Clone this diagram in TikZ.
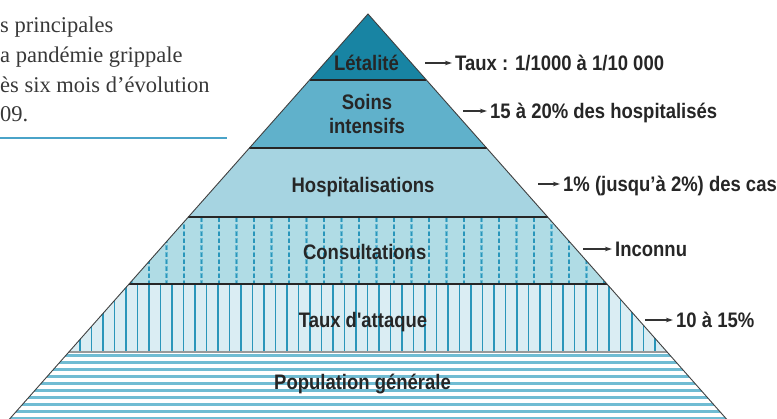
\documentclass[tikz,border=0pt]{standalone}
\usepackage{fontspec}
\setmainfont{Liberation Serif}
\newfontfamily\pyrfont[FakeStretch=0.88]{Liberation Sans}
\usetikzlibrary{arrows.meta}

\definecolor{letalcol}{RGB}{24,132,163}
\definecolor{soinscol}{RGB}{96,177,203}
\definecolor{hospcol}{RGB}{166,212,225}
\definecolor{consultcol}{RGB}{176,220,229}
\definecolor{attaquecol}{RGB}{218,237,243}
\definecolor{hatchcol}{RGB}{42,150,186}
\definecolor{hatchlight}{RGB}{104,186,211}
\definecolor{stripecol}{RGB}{112,188,211}
\definecolor{rulecol}{RGB}{74,163,200}

\begin{document}
\begin{tikzpicture}[
    x=1pt, y=-1pt,
    lbl/.style={
        font=\pyrfont\bfseries\fontsize{21}{24.3}\selectfont,
        text=black!85,
        inner sep=0pt,
    },
    band/.style={lbl, text height=15pt, text depth=0pt},
    note/.style={band, anchor=west, inner xsep=3pt},
    pointer/.style={-{Stealth[length=7pt,width=4.5pt]}, line width=1.2pt, black!80},
    sep/.style={line width=1.1pt, black!85},
]
    \clip (0,0) rectangle (777,419);

    % ~~~ pyramid levels ~~~~~~~~~~~~
    \coordinate (apex) at (368,14);
    \foreach \i/\y in {1/80,2/148,3/217,4/284,5/352,6/430}{
        \coordinate (l\i) at ({368-0.885*(\y-14)},\y);
        \coordinate (r\i) at ({368+0.885*(\y-14)},\y);
    }
    \fill[letalcol]   (apex) -- (r1) -- (l1) -- cycle;
    \fill[soinscol]   (l1) -- (r1) -- (r2) -- (l2) -- cycle;
    \fill[hospcol]    (l2) -- (r2) -- (r3) -- (l3) -- cycle;
    \fill[consultcol] (l3) -- (r3) -- (r4) -- (l4) -- cycle;
    \fill[attaquecol] (l4) -- (r4) -- (r5) -- (l5) -- cycle;

    % consultations: dashed hatching
    \begin{scope}
        \clip (l3) -- (r3) -- (r4) -- (l4) -- cycle;
        \foreach \k in {0,...,27}{
            \draw[hatchlight, line width=2.4pt, dash pattern=on 5pt off 2pt]
                ({131.5+17.5*\k},217) -- ++(0,67);
            \draw[hatchcol, line width=1.1pt, dash pattern=on 4pt off 3pt]
                ({131.5+17.5*\k},218) -- ++(0,67);
        }
    \end{scope}

    % taux d'attaque: plain hatching
    \begin{scope}
        \clip (l4) -- (r4) -- (r5) -- (l5) -- cycle;
        \foreach \k in {0,...,52}
            \draw[hatchcol, line width=1.1pt] ({68.5+11.5*\k},284) -- ++(0,68);
    \end{scope}

    % population: stripes
    \begin{scope}
        \clip (l5) -- (r5) -- (r6) -- (l6) -- cycle;
        \foreach \k in {0,...,11}
            \fill[stripecol] (0,{354+7*\k}) rectangle (777,{357.5+7*\k});
    \end{scope}

    \draw[sep] (l1) -- (r1);
    \draw[sep] (l2) -- (r2);
    \draw[sep] (l3) -- (r3);
    \draw[sep] (l4) -- (r4);
    \draw[line width=2pt, black!40] (l5) -- (r5);
    \draw[black!75, line width=0.9pt] (l6) -- (apex) -- (r6);

    % ~~~ level names ~~~~~~~~~~~~
    \node[band] (letalite) at (366.5,63) {Létalité};
    % base = baseline of the last line
    \node[lbl, align=center, anchor=base] (soins) at (367,133.5) {Soins\\intensifs};
    \node[band] (hospit) at (363,185) {Hospitalisations};
    \node[band] (consult) at (364.7,251.7) {Consultations};
    \node[band] (attaque) at (363,320) {Taux d'attaque};
    \node[band] (popul) at (362.5,381.7) {Population générale};

    % ~~~ rates on the right ~~~~~~~~~~~~
    \coordinate (p1) at (425,63);
    \coordinate (p2) at (463,111);
    \coordinate (p3) at (538,184);
    \coordinate (p4) at (583,249);
    \coordinate (p5) at (645,320);
    \node[note] (n1) at (452,63)  {Taux : 1/1000 à 1/10 000};
    \node[note] (n2) at (487,111) {15 à 20\% des hospitalisés};
    \node[note] (n3) at (560,184) {1\% (jusqu’à 2\%) des cas};
    \node[note] (n4) at (612,249) {Inconnu};
    \node[note] (n5) at (673,320) {10 à 15\%};
    \foreach \i in {1,...,5}
        \draw[pointer] (p\i) -- (n\i.west);

    % ~~~ caption on the left ~~~~~~~~~~~~
    \node[anchor=base west, align=left, inner sep=0pt, text=black!78,
          font=\fontsize{22.5}{29.7}\selectfont] (intro) at (0,122)
        {s principales\\a pandémie grippale\\ès six mois d’évolution\\09.};
    \draw[rulecol, line width=1.3pt] (0,138) -- (227,138);
\end{tikzpicture}
\end{document}
